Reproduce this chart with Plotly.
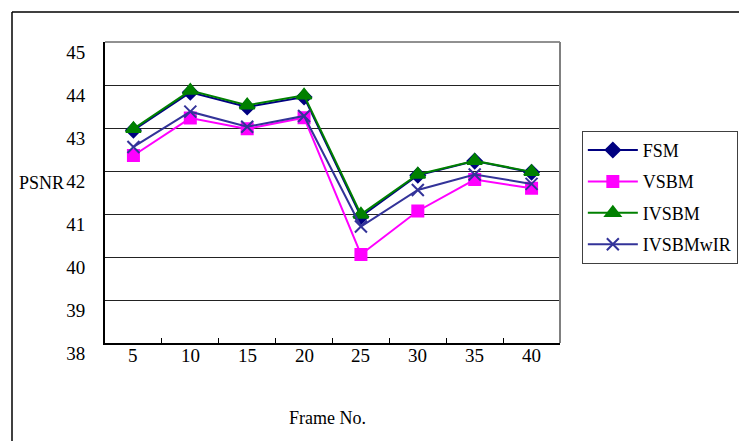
import plotly.graph_objects as go

frames = ["5", "10", "15", "20", "25", "30", "35", "40"]
fsm = [42.95, 43.83, 43.49, 43.72, 40.94, 41.90, 42.23, 41.97]
vsbm = [42.36, 43.23, 42.98, 43.24, 40.06, 41.07, 41.80, 41.60]
ivsbm = [42.98, 43.87, 43.53, 43.76, 40.99, 41.92, 42.24, 41.98]
ivsbmwir = [42.56, 43.38, 43.03, 43.28, 40.71, 41.56, 41.92, 41.70]
y_ticks = [38, 39, 40, 41, 42, 43, 44, 45]

FONT = "Liberation Serif"

series = [
    ("FSM", fsm, "#000080", "diamond", 11),
    ("VSBM", vsbm, "#FF00FF", "square", 11),
    ("IVSBM", ivsbm, "#008000", "triangle-up", 13),
    ("IVSBMwIR", ivsbmwir, "#333399", "x-thin-open", 12),
]

fig = go.Figure()
for i, (name, vals, color, sym, size) in enumerate(series):
    fig.add_trace(go.Scatter(
        x=frames, y=vals, name=name, mode="lines+markers",
        line=dict(color=color, width=2),
        marker=dict(symbol=sym, size=size, color=color,
                    line=dict(color=color, width=2)),
        legendgroup=f"g{i}",
    ))

annotations = [
    dict(text="PSNR", xref="paper", yref="paper", x=-0.14, y=0.532,
         showarrow=False, xanchor="center", yanchor="middle",
         font=dict(family=FONT, size=18)),
    dict(text="Frame No.", xref="paper", yref="paper", x=0.49, y=-0.249,
         showarrow=False, xanchor="center", yanchor="middle",
         font=dict(family=FONT, size=18)),
]
for idx, f in enumerate(frames):
    annotations.append(dict(text=f, xref="x", yref="paper", x=idx, y=0,
                            yshift=-12, showarrow=False, xanchor="center",
                            yanchor="middle", font=dict(family=FONT, size=19)))

fig.update_layout(
    width=739, height=441,
    margin=dict(l=105, r=179, t=42, b=98, autoexpand=False),
    paper_bgcolor="white", plot_bgcolor="white",
    font=dict(family=FONT, size=19, color="black"),
    showlegend=True,
    legend=dict(
        x=1.048, y=0.705, xanchor="left", yanchor="top",
        bordercolor="#404040", borderwidth=1,
        font=dict(family=FONT, size=18, color="black"),
        tracegroupgap=5, traceorder="grouped",
        itemwidth=50,
    ),
    xaxis=dict(
        type="category", tickson="boundaries", ticks="inside", ticklen=5,
        tickcolor="black", showgrid=False, showline=True, linecolor="black",
        linewidth=2, range=[-0.5, 7.5], showticklabels=False,
        automargin=False,
    ),
    yaxis=dict(
        range=[38, 45], tickvals=y_ticks, showgrid=True, gridcolor="#222222",
        gridwidth=1, showline=True, linecolor="black", linewidth=2,
        ticks="", ticklabelstandoff=14, ticklabelshift=10,
        zeroline=False, tickfont=dict(size=19), automargin=False,
    ),
    annotations=annotations,
    shapes=[
        dict(type="line", xref="paper", yref="paper", x0=0, x1=1, y0=1, y1=1,
             line=dict(color="#222222", width=1)),
        dict(type="line", xref="paper", yref="paper", x0=1, x1=1, y0=0, y1=1,
             line=dict(color="#808080", width=2)),
        dict(type="line", xref="paper", yref="paper",
             x0=(12 - 105) / 455, x1=(739 - 105) / 455,
             y0=(343 - 12) / 301, y1=(343 - 12) / 301,
             line=dict(color="black", width=1.5)),
        dict(type="line", xref="paper", yref="paper",
             x0=(12 - 105) / 455, x1=(12 - 105) / 455,
             y0=(343 - 12) / 301, y1=(343 - 441) / 301,
             line=dict(color="black", width=1.5)),
    ],
)

fig.write_html("out.html", config={"displayModeBar": False},
               post_script="document.body.style.margin='0px';")
